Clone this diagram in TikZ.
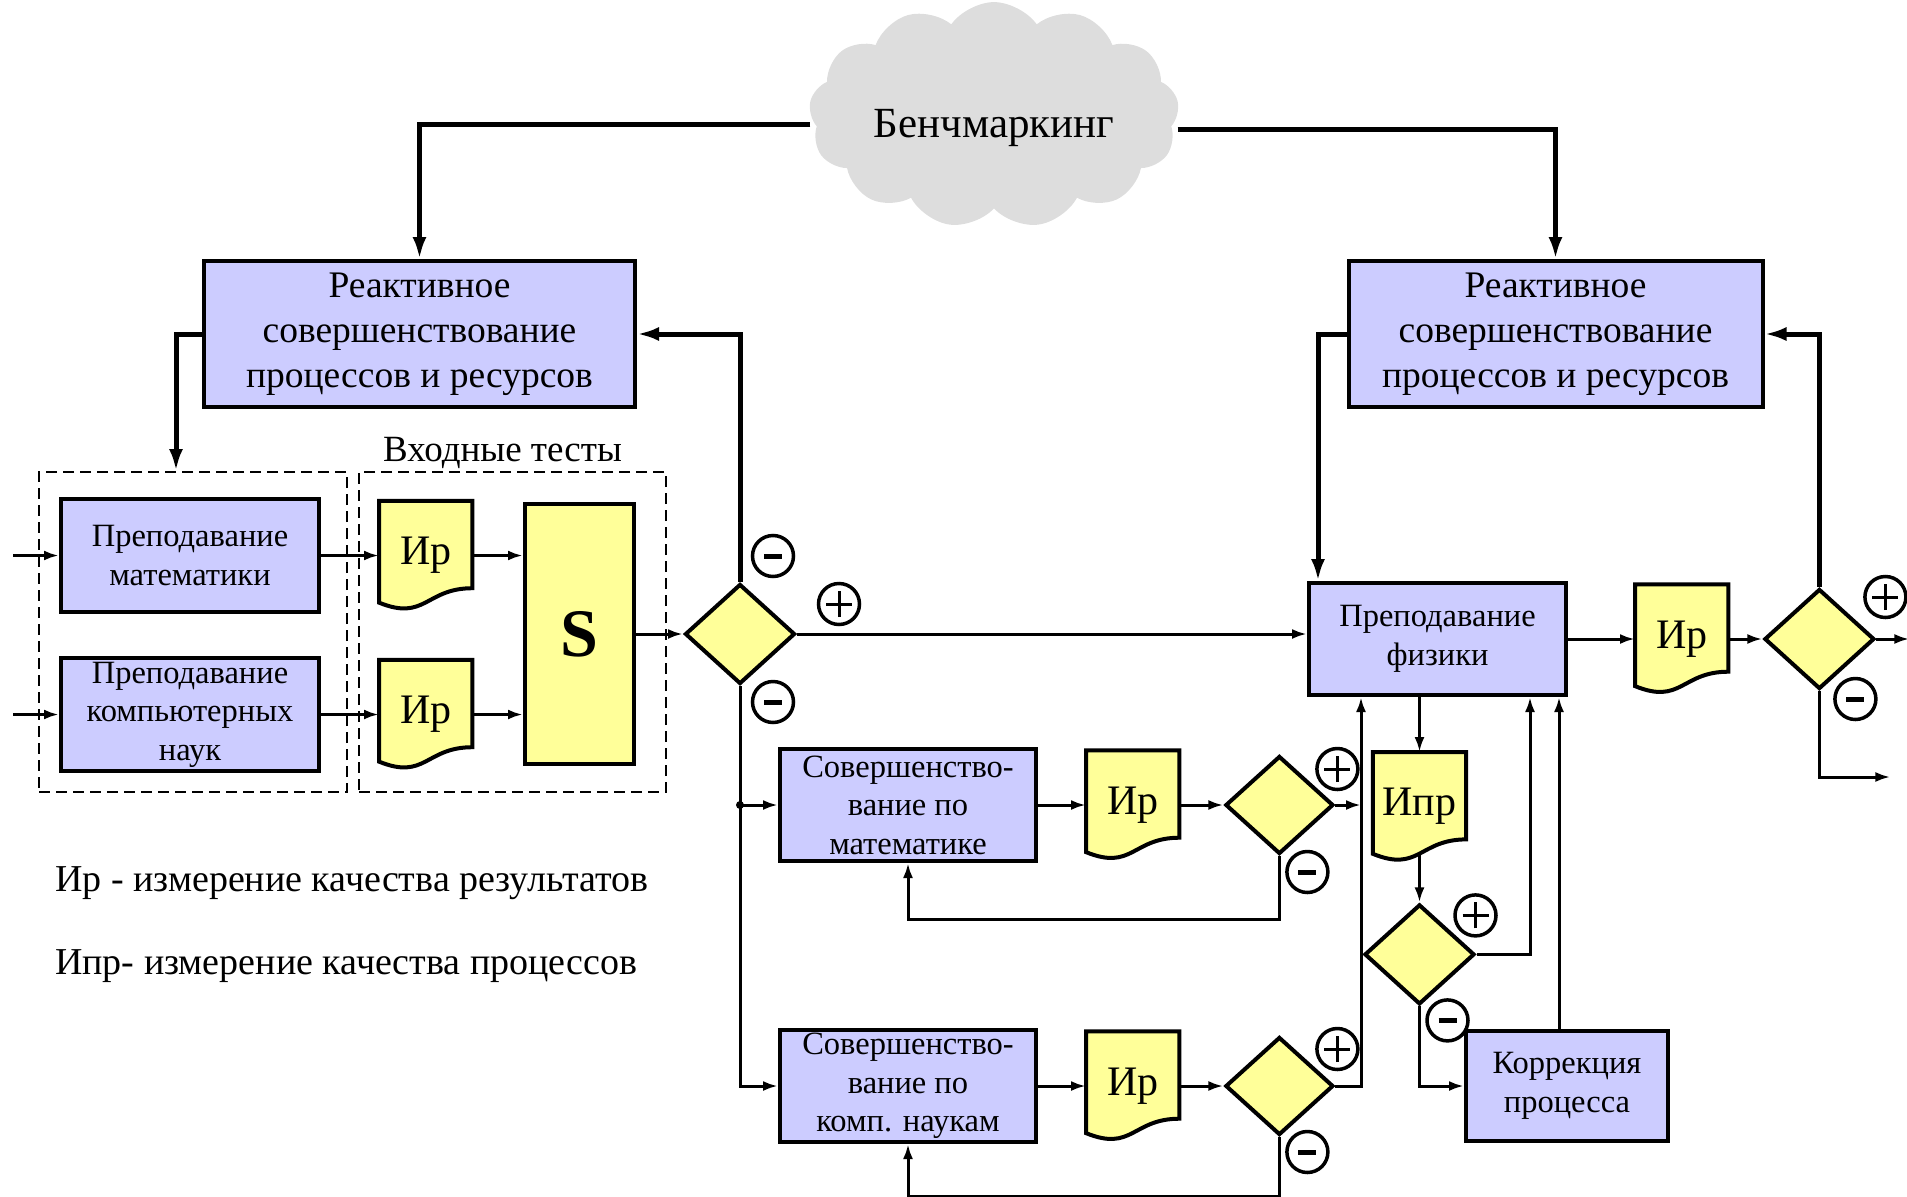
\documentclass[tikz,border=0pt]{standalone}
\usepackage{fontspec}
\setmainfont{Liberation Serif}
\usetikzlibrary{shapes.geometric,shapes.symbols,positioning,calc,backgrounds,arrows.meta}
\definecolor{procblue}{RGB}{204,204,255}
\definecolor{docyellow}{RGB}{255,255,153}
\definecolor{cloudgray}{RGB}{221,221,221}
\tikzset{/bench/proc/.style={rectangle, draw=black, line width=4pt, fill=procblue, align=center, inner sep=0, font=\fontsize{32.5}{38.5}\selectfont}}
\tikzset{/bench/react/.style={/bench/proc, font=\fontsize{37.5}{45}\selectfont}}
\tikzset{/bench/doc/.style={rectangle, minimum width=93pt, minimum height=109pt, inner sep=0, font=\fontsize{42}{42}\selectfont}}
\tikzset{/bench/docline/.style={draw=black, fill=docyellow, line width=4pt, line join=miter}}
\tikzset{/bench/sum/.style={rectangle, draw=black, line width=4pt, fill=docyellow, inner sep=0, font=\bfseries\fontsize{68}{68}\selectfont}}
\tikzset{/bench/cond/.style={diamond, draw=black, line width=4pt, fill=docyellow, minimum width=110pt, minimum height=100pt, inner sep=0}}
\tikzset{/bench/sign/.style={circle, draw=black, line width=3.5pt, minimum size=41pt, inner sep=0, fill=white}}
\tikzset{/bench/plus/.style={/bench/sign, path picture={\draw[line width=3pt] ([xshift=-13pt]path picture bounding box.center) -- ([xshift=13pt]path picture bounding box.center) ([yshift=-13pt]path picture bounding box.center) -- ([yshift=13pt]path picture bounding box.center);}}}
\tikzset{/bench/minus/.style={/bench/sign, path picture={\draw[line width=5pt] ([xshift=-9pt]path picture bounding box.center) -- ([xshift=9pt]path picture bounding box.center);}}}
\tikzset{/bench/frame/.style={rectangle, draw=black, line width=2pt, dash pattern=on 11pt off 6pt, inner sep=0}}
\tikzset{/bench/cloudbox/.style={cloud, cloud puffs=13, cloud puff arc=110, aspect=1.8, fill=cloudgray, draw=none, minimum width=370pt, minimum height=212pt, inner sep=0, font=\fontsize{43}{43}\selectfont}}
\tikzset{/bench/legend/.style={inner sep=0, font=\fontsize{38}{42}\selectfont}}
\tikzset{/bench/flow/.style={draw, line width=3pt, ->}}
\tikzset{/bench/feed/.style={draw, line width=5pt, >={Latex[length=22pt,width=14pt]}, ->}}
\newcommand{\DocShape}[1]{%
\path[/bench/docline] (#1.north west) -- (#1.north east) -- ([yshift=-87.4pt]#1.north east)
  .. controls ([xshift=46.5pt,yshift=-87.4pt]#1.north west) and ([xshift=46.5pt,yshift=-120.8pt]#1.north west) ..
  ([yshift=-101.8pt]#1.north west) -- cycle;}

\begin{document}
\begin{tikzpicture}[x=1pt, y=-1pt, >={Latex[length=15pt,width=10pt]}]
	\useasboundingbox (0,0) rectangle (1907,1197);
	\path node[/bench/cloudbox] (Bench) at (994,115) {\raisebox{0pt}[\dimexpr\height+26pt\relax][\depth]{Бенчмаркинг}};
	\path node[/bench/react, minimum width=431pt, minimum height=146pt] (ReactL) at (419.5,334) {Реактивное\\совершенствование\\процессов и ресурсов};
	\path node[/bench/react, minimum width=414pt, minimum height=146pt] (ReactR) at (1555.5,334) {Реактивное\\совершенствование\\процессов и ресурсов};
	\path node[/bench/frame, minimum width=308pt, minimum height=320pt] (FrameTeach) at (193,632) {};
	\path node[/bench/frame, minimum width=307pt, minimum height=320pt] (FrameTests) at (512.5,632) {};
	\path (FrameTests.north) ++(-10,-2) node[anchor=south, /bench/legend, font=\fontsize{37}{40}\selectfont] (InTests) {Входные тесты};
	\path node[/bench/proc, minimum width=258pt, minimum height=113pt] (TeachMath) at (190,555.5) {Преподавание\\математики};
	\path node[/bench/proc, minimum width=258pt, minimum height=113pt] (TeachCS) at (190,714.5) {Преподавание\\компьютерных\\наук};
	\path (TeachMath.east) ++(58,0) node[/bench/doc, anchor=west] (IrMath) {Ир};
	\path (TeachCS.east) ++(58,0) node[/bench/doc, anchor=west] (IrCS) {Ир};
	\path node[/bench/sum, minimum width=109pt, minimum height=260pt] (Sum) at (579.5,634) {S};
	\path (Sum.east) ++(47,0) node[/bench/cond, anchor=west] (CheckIn) {};
	\path (CheckIn.north) ++(33,-26) node[/bench/minus] (CheckInUp) {};
	\path (CheckIn.east) ++(42,-30) node[/bench/plus] (CheckInPass) {};
	\path (CheckIn.south) ++(33,16) node[/bench/minus] (CheckInDown) {};
	\path node[/bench/proc, minimum width=257pt, minimum height=112pt] (TeachPhys) at (1437.5,639) {Преподавание\\физики};
	\path (TeachPhys.east) ++(67,0) node[/bench/doc, anchor=west] (IrPhys) {Ир};
	\path (IrPhys.east) ++(34,0) node[/bench/cond, anchor=west] (CheckPhys) {};
	\path (CheckPhys.east) ++(9,-42) node[/bench/plus] (CheckPhysPass) {};
	\path (CheckPhys.south) ++(36,8) node[/bench/minus] (CheckPhysFail) {};
	\path (CheckPhys.east) ++(33,0) coordinate (OutPass);
	\path (CheckPhys.south) ++(71,86) coordinate (OutFail);
	% improvement branches
	\path node[/bench/proc, minimum width=256pt, minimum height=112pt] (ImpMath) at (908,805) {Совершенство-\\вание по\\математике};
	\path (ImpMath.east) ++(48,0) node[/bench/doc, anchor=west] (IrImpMath) {Ир};
	\path (IrImpMath.east) ++(44,0) node[/bench/cond, minimum width=108pt, minimum height=98pt, anchor=west] (CheckMath) {};
	\path (CheckMath.east) ++(2,-36) node[/bench/plus] (CheckMathPass) {};
	\path (CheckMath.south) ++(28,16) node[/bench/minus] (CheckMathFail) {};
	\path node[/bench/proc, minimum width=256pt, minimum height=112pt] (ImpCS) at (908,1086) {Совершенство-\\вание по\\комп. наукам};
	\path (ImpCS.east) ++(48,0) node[/bench/doc, anchor=west] (IrImpCS) {Ир};
	\path (IrImpCS.east) ++(44,0) node[/bench/cond, minimum width=108pt, minimum height=98pt, anchor=west] (CheckCS) {};
	\path (CheckCS.east) ++(2,-37) node[/bench/plus] (CheckCSPass) {};
	\path (CheckCS.south) ++(28,15) node[/bench/minus] (CheckCSFail) {};
	% process check
	\path (TeachPhys.south) ++(-18,55) node[/bench/doc, anchor=north] (IprPhys) {Ипр};
	\path (IprPhys.south) ++(0,41) node[/bench/cond, anchor=north] (CheckProc) {};
	\path (CheckProc.north) ++(56,13) node[/bench/plus] (CheckProcPass) {};
	\path (CheckProc.south) ++(28,14) node[/bench/minus] (CheckProcFail) {};
	\path node[/bench/proc, minimum width=202pt, minimum height=110pt] (CorrProc) at (1567,1086) {Коррекция\\процесса};
	\path ([xshift=54pt]TeachPhys.south west) coordinate (BusTop);
	\path node[anchor=west, /bench/legend] (LegendIr) at (55,883) {Ир - измерение качества результатов};
	\path (LegendIr.west) ++(0,83) node[anchor=west, /bench/legend] (LegendIpr) {Ипр- измерение качества процессов};
	\begin{scope}[on background layer]
		\foreach \docname in {IrMath,IrCS,IrImpMath,IrImpCS,IrPhys,IprPhys} {\DocShape{\docname}}
	\end{scope}
	% feedback lines
	\path[/bench/feed] ([yshift=-9pt]Bench.west) -| (ReactL.north);
	\path[/bench/feed] ([yshift=-14pt]Bench.east) -| (ReactR.north);
	\path[/bench/feed] (ReactL.west) -| ([xshift=-17pt]FrameTeach.north);
	\path[/bench/feed] (ReactR.west) -| ([xshift=11pt]TeachPhys.north west);
	\path[/bench/feed] (CheckIn.north) |- (ReactL.east);
	\path[/bench/feed] (CheckPhys.north) |- (ReactR.east);
	% flows
	\path (TeachMath.west) ++(-46,0) coordinate (InMath);
	\path (TeachCS.west) ++(-46,0) coordinate (InCS);
	\path[/bench/flow] (InMath) -- (TeachMath);
	\path[/bench/flow] (InCS) -- (TeachCS);
	\path[/bench/flow] (TeachMath) -- (IrMath);
	\path[/bench/flow] (TeachCS) -- (IrCS);
	\path[/bench/flow] (IrMath.east) -- (IrMath.east -| Sum.west);
	\path[/bench/flow] (IrCS.east) -- (IrCS.east -| Sum.west);
	\path[/bench/flow] (Sum) -- (CheckIn);
	\path[/bench/flow] (CheckIn.east) -- (CheckIn.east -| TeachPhys.west);
	\path[/bench/flow] (CheckIn.south) |- (ImpCS.west);
	\coordinate (TapMath) at (ImpMath.west -| CheckIn.south);
	\fill (TapMath) circle (4pt);
	\path[/bench/flow] (TapMath) -- (ImpMath.west);
	\path[/bench/flow] (ImpMath) -- (IrImpMath);
	\path[/bench/flow] (IrImpMath) -- (CheckMath);
	\path[/bench/flow] (CheckMath.east) -- (CheckMath.east -| BusTop);
	\path[/bench/flow] (CheckMath.south) -- ++(0,63) -| (ImpMath.south);
	\path[/bench/flow] (ImpCS) -- (IrImpCS);
	\path[/bench/flow] (IrImpCS) -- (CheckCS);
	\path[/bench/flow] (CheckCS.east) -| (BusTop);
	\path[/bench/flow] (CheckCS.south) -- ++(0,59) -| (ImpCS.south);
	\path[/bench/flow] (TeachPhys.south -| IprPhys.north) -- (IprPhys.north);
	\path[/bench/flow] ([yshift=8pt]IprPhys.south) -- (CheckProc.north);
	\path[/bench/flow] (CheckProc.east) -| ([xshift=-38pt]TeachPhys.south east);
	\path[/bench/flow] (CheckProc.south) |- (CorrProc.west);
	\path[/bench/flow] ([xshift=-8pt]CorrProc.north) -- ([xshift=-8pt]CorrProc.north |- TeachPhys.south);
	\path[/bench/flow] (TeachPhys) -- (IrPhys);
	\path[/bench/flow] (IrPhys) -- (CheckPhys);
	\path[/bench/flow] (CheckPhys) -- (OutPass);
	\path[/bench/flow] (CheckPhys.south) |- (OutFail);
\end{tikzpicture}
\end{document}
